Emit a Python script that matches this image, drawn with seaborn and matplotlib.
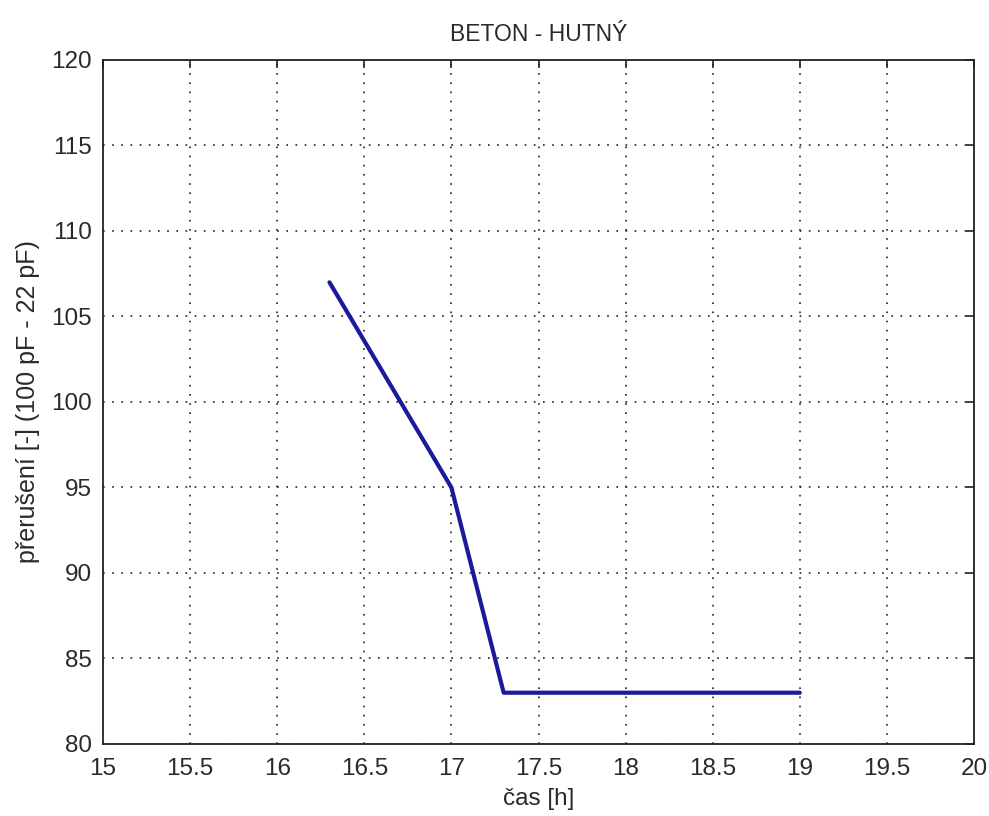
import numpy as np
import pandas as pd
import seaborn as sns
import matplotlib.pyplot as plt

# data
cas = [16.3, 17.0, 17.3, 19.0]
preruseni = [107, 95, 83, 83]
x_ticks = [15, 15.5, 16, 16.5, 17, 17.5, 18, 18.5, 19, 19.5, 20]
y_ticks = [80, 85, 90, 95, 100, 105, 110, 115, 120]

df = pd.DataFrame({"cas": cas, "preruseni": preruseni})

sns.set_style("white")
plt.rcParams["font.family"] = ["Liberation Sans", "DejaVu Sans"]

fig = plt.figure(figsize=(9.89, 8.16), dpi=100)
ax = fig.add_axes([103 / 989, 1 - 744 / 816, 871 / 989, 684 / 816])

sns.lineplot(data=df, x="cas", y="preruseni", ax=ax, color="#1a1a9a", linewidth=3)

ax.set_xlim(15, 20)
ax.set_ylim(80, 120)
ax.set_xticks(x_ticks)
ax.set_xticklabels([f"{t:g}" for t in x_ticks])
ax.set_yticks(y_ticks)
ax.tick_params(axis="both", direction="in", length=6, width=1.2, labelsize=17.5,
               top=True, right=True, colors="#222222", labelcolor="#2a2a2a")
ax.tick_params(axis="x", pad=10)
ax.tick_params(axis="y", pad=8)
ax.grid(True, linestyle=(0, (1, 4.5)), color="#222222", linewidth=1.2)
for s in ax.spines.values():
    s.set_color("#222222")
    s.set_linewidth(1.3)

ax.set_xlabel("čas [h]", fontsize=17.5, labelpad=6, color="#2a2a2a")
ax.set_ylabel("přerušení [-] (100 pF - 22 pF)", fontsize=18, labelpad=8, color="#2a2a2a")
ax.set_title("BETON - HUTNÝ", fontsize=16.5, pad=14, color="#2a2a2a")

fig.savefig("out.png", dpi=100)
